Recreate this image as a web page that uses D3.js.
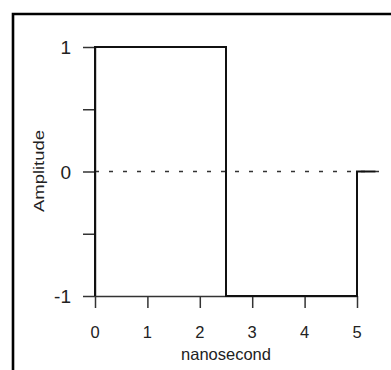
<!DOCTYPE html>
<html>
<head>
<meta charset="utf-8">
<script src="https://cdn.jsdelivr.net/npm/d3@7"></script>
<style>
  html, body { margin: 0; padding: 0; background: #fff; }
  svg { display: block; font-family: "Liberation Sans", Arial, sans-serif; }
</style>
</head>
<body>
<svg width="391" height="370"></svg>
<script>
// pulse data (nanoseconds vs amplitude)
var times = [0, 0, 2.5, 2.5, 5, 5, 5.35];
var amplitudes = [-1, 1, 1, -1, -1, 0, 0];
var xTicks = [0, 1, 2, 3, 4, 5];
var yTicks = [1, 0.5, 0, -0.5, -1];
var yLabels = [1, 0, -1];
var xTitle = "nanosecond";
var yTitle = "Amplitude";

var svg = d3.select("svg");

var x = d3.scaleLinear().domain([0, 5]).range([95, 357]);
var y = d3.scaleLinear().domain([-1, 1]).range([296, 47]);

// frame edges (scan crop)
svg.append("path")
  .attr("d", "M13,370 V14 H391")
  .attr("fill", "none")
  .attr("stroke", "#000")
  .attr("stroke-width", 2.6);

// x axis, ticks pointing down
var xAxis = svg.append("g").attr("transform", "translate(0," + y(-1) + ")")
  .call(d3.axisBottom(x).tickValues(xTicks).tickSize(12).tickSizeOuter(0).tickFormat(""));
xAxis.select(".domain").attr("stroke", "#333").attr("stroke-width", 1.5);
xAxis.selectAll(".tick line").attr("stroke", "#333").attr("stroke-width", 1.5);

svg.append("g").selectAll("text")
  .data(xTicks)
  .enter().append("text")
  .attr("x", function (d) { return x(d); })
  .attr("y", 338)
  .attr("text-anchor", "middle")
  .attr("font-size", 16.5)
  .attr("fill", "#222")
  .text(function (d) { return d; });

// y axis, ticks pointing left
var yAxis = svg.append("g").attr("transform", "translate(" + x(0) + ",0)")
  .call(d3.axisLeft(y).tickValues(yTicks).tickSize(12).tickSizeOuter(0).tickFormat(""));
yAxis.select(".domain").attr("stroke", "#333").attr("stroke-width", 1.5);
yAxis.selectAll(".tick line").attr("stroke", "#333").attr("stroke-width", 1.5);

svg.append("g").selectAll("text")
  .data(yLabels)
  .enter().append("text")
  .attr("x", 71)
  .attr("y", function (d) { return y(d) + 7; })
  .attr("text-anchor", "end")
  .attr("font-size", 19)
  .attr("fill", "#222")
  .text(function (d) { return d; });

// zero reference, dotted
svg.append("line")
  .attr("x1", x(0)).attr("x2", 384)
  .attr("y1", y(0)).attr("y2", y(0))
  .attr("stroke", "#333")
  .attr("stroke-width", 1.4)
  .attr("stroke-dasharray", "4,10");

// the pulse
var line = d3.line()
  .x(function (d, i) { return x(times[i]); })
  .y(function (d) { return y(d); });

svg.append("path")
  .datum(amplitudes)
  .attr("d", line)
  .attr("fill", "none")
  .attr("stroke", "#111")
  .attr("stroke-width", 2);

// axis titles
svg.append("text")
  .attr("x", 226)
  .attr("y", 360)
  .attr("text-anchor", "middle")
  .attr("font-size", 16.5)
  .attr("fill", "#222")
  .text(xTitle);

svg.append("text")
  .attr("transform", "translate(44,171) rotate(-90)")
  .attr("text-anchor", "middle")
  .attr("font-size", 14)
  .attr("textLength", 82)
  .attr("lengthAdjust", "spacingAndGlyphs")
  .attr("fill", "#222")
  .text(yTitle);
</script>
</body>
</html>
